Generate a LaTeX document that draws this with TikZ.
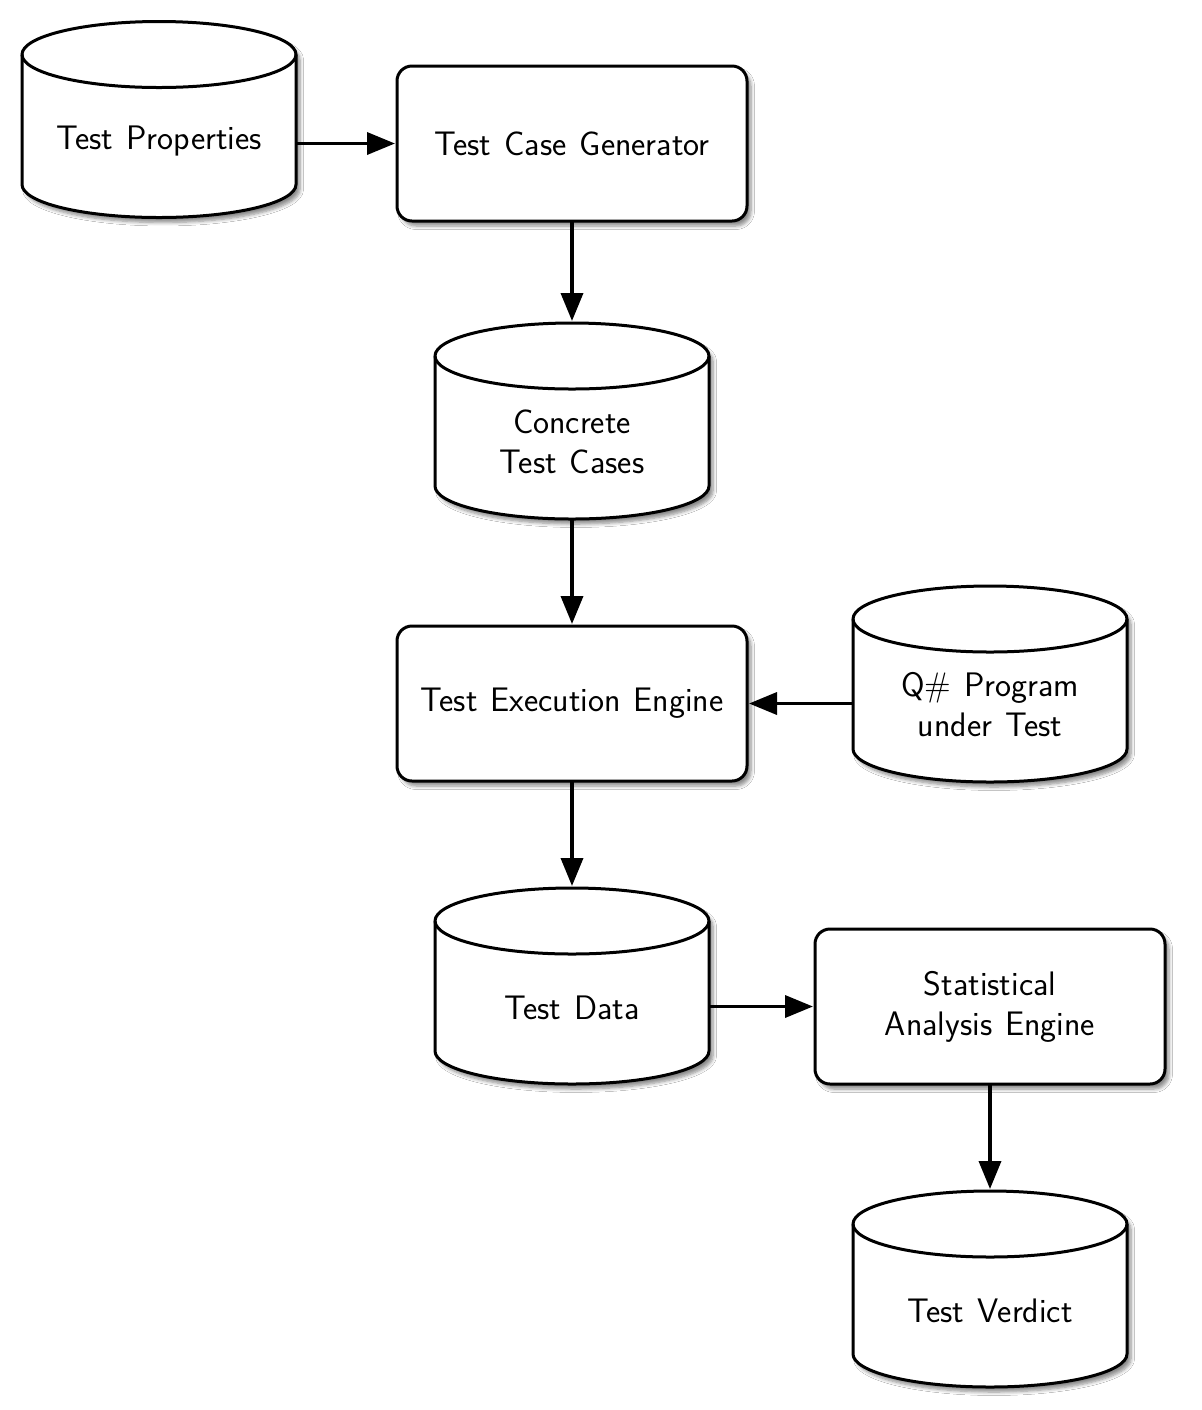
\documentclass[tikz,border=0pt]{standalone}
\usetikzlibrary{arrows.meta,shadows,shadows.blur}
\newcommand\diafont{\sffamily\fontsize{17}{20}\selectfont\spaceskip=6.5pt plus 1pt\relax}
\tikzset{
  cylbox/.style={rectangle, minimum width=137pt, minimum height=98pt, inner sep=0pt, outer sep=0pt},
  cylshape/.style={draw, fill=white, line width=1.5pt, blur shadow={shadow xshift=2pt, shadow yshift=-2.5pt, shadow blur steps=6, shadow opacity=45}},
  procbox/.style={rectangle, draw, fill=white, rounded corners=7.5pt, line width=1.5pt, minimum width=175pt, minimum height=77.5pt, inner sep=0pt, outer sep=0pt, align=center, font=\diafont, blur shadow={shadow xshift=2pt, shadow yshift=-2.5pt, shadow blur steps=6, shadow opacity=45}},
  txt/.style={align=center, inner sep=0pt, font=\diafont},
  flow/.style={draw=black, line width=1.8pt, shorten >=1pt, -{Triangle[length=14pt,width=11pt,fill=black]}}
}
\newcommand\drawcyl[1]{%
  \path[cylshape] ([yshift=-16.5pt]#1.north west) -- ([yshift=16.5pt]#1.south west)
    arc[start angle=180, end angle=360, x radius=68.5pt, y radius=16.5pt]
    -- ([yshift=-16.5pt]#1.north east)
    arc[start angle=0, end angle=180, x radius=68.5pt, y radius=16.5pt] -- cycle;
  \draw[line width=1.5pt] ([yshift=-16.5pt]#1.north west)
    arc[start angle=180, end angle=360, x radius=68.5pt, y radius=16.5pt];
}
\begin{document}
\begin{tikzpicture}
\useasboundingbox[fill=white] (0pt,0pt) rectangle (601pt,-705pt);
% cylinders (outlines)
\node[cylbox] (tp) at (79.5pt,-59.75pt) {};
\node[cylbox] (ctc) at (286pt,-210.5pt) {};
\node[cylbox] (qp) at (495pt,-342pt) {};
\node[cylbox] (td) at (286pt,-493pt) {};
\node[cylbox] (tv) at (495pt,-644.5pt) {};
\drawcyl{tp}
\drawcyl{ctc}
\drawcyl{qp}
\drawcyl{td}
\drawcyl{tv}
\node[txt] (tpt) at ([yshift=-11pt]tp.center) {Test Properties};
\node[txt] (ctct) at ([yshift=-10.5pt]ctc.center) {Concrete\\Test Cases};
\node[txt] (qpt) at ([yshift=-10.5pt]qp.center) {Q\# Program\\under Test};
\node[txt] (tdt) at ([yshift=-11pt]td.center) {Test Data};
\node[txt] (tvt) at ([yshift=-11pt]tv.center) {Test Verdict};
% process boxes
\node[procbox] (tcg) at (286pt,-71.75pt) {Test Case Generator};
\node[procbox] (tee) at (286pt,-351.75pt) {Test Execution Engine};
\node[procbox] (sae) at (495pt,-503.25pt) {Statistical\\Analysis Engine};
% connectors
\draw[flow] (tp.east |- tcg.west) -- (tcg.west);
\draw[flow] (tcg.south) -- (ctc.north);
\draw[flow] (ctc.south) -- (tee.north);
\draw[flow] (qp.west |- tee.east) -- (tee.east);
\draw[flow] (tee.south) -- (td.north);
\draw[flow] (td.east |- sae.west) -- (sae.west);
\draw[flow] (sae.south) -- (tv.north);
\end{tikzpicture}
\end{document}
